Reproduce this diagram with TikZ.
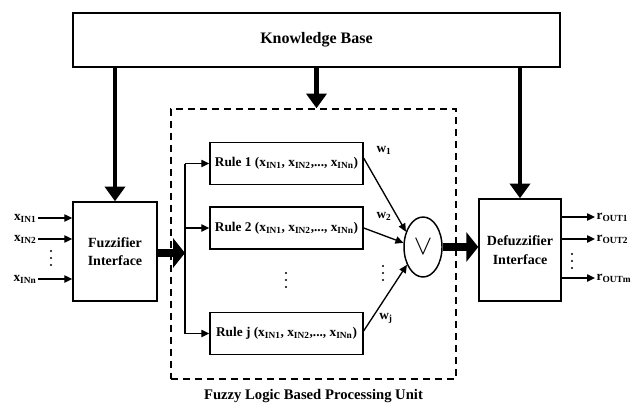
\documentclass[tikz,border=0pt]{standalone}
\usepackage{fontspec}
\setmainfont{Liberation Serif}
\usetikzlibrary{arrows.meta,shapes.geometric,calc}
\begin{document}
\begin{tikzpicture}[x=0.75pt,y=-0.75pt,
  box/.style={draw,line width=1.1pt,inner sep=0pt,align=center},
  thinarrow/.style={line width=1pt,-{Triangle[length=6pt,width=5.5pt]}},
  kbarrow/.style={line width=3.6pt,-{Triangle[length=11pt,width=15pt]}},
  bigarrow/.style={line width=6.5pt,-{Triangle[length=9pt,width=22pt]}},
  lbl/.style={font=\fontsize{10}{12}\selectfont\bfseries,inner sep=1pt},
  rulebox/.style={box,minimum width=114.75pt,minimum height=31.5pt,font=\fontsize{10}{12}\selectfont\bfseries},
  vdot/.style={fill=black}]
\useasboundingbox (0,0) rectangle (641,410);
% Knowledge base
\node[box,minimum width=365.25pt,minimum height=40.5pt,font=\fontsize{12}{14}\selectfont\bfseries] (kb) at (316.5,40) {Knowledge Base};
% Fuzzifier and defuzzifier
\node[box,minimum width=63pt,minimum height=74.25pt,font=\fontsize{10.5}{14}\selectfont\bfseries] (fz) at (115,251.5) {Fuzzifier\\Interface};
\node[box,minimum width=61.5pt,minimum height=76.5pt,font=\fontsize{10.5}{14}\selectfont\bfseries] (df) at (520,250) {Defuzzifier\\Interface};
% Processing unit
\node[draw,line width=1.1pt,dash pattern=on 5.5pt off 3.5pt,minimum width=213.75pt,minimum height=202.5pt,inner sep=0pt] (fl) at (313.5,244) {};
\node[lbl,font=\fontsize{11}{13}\selectfont\bfseries,anchor=north] (fltext) at (313.5,388) {Fuzzy Logic Based Processing Unit};
% Rules
\node[rulebox] (r1) at (286.5,163.5) {Rule 1 (x\textsubscript{IN1}, x\textsubscript{IN2},..., x\textsubscript{INn})};
\node[rulebox] (r2) at (286.5,228) {Rule 2 (x\textsubscript{IN1}, x\textsubscript{IN2},..., x\textsubscript{INn})};
\node[rulebox] (rj) at (286.5,333.5) {Rule j (x\textsubscript{IN1}, x\textsubscript{IN2},..., x\textsubscript{INn})};
% OR node
\node[draw,line width=1.1pt,ellipse,minimum width=28.5pt,minimum height=45pt,inner sep=0pt,font=\fontsize{22}{22}\selectfont] (or) at (423,247) {$\vee$};
% Knowledge base arrows
\draw[kbarrow] (kb.south -| fz.north) -- (fz.north);
\draw[kbarrow] (kb.south -| df.north) -- (df.north);
\draw[kbarrow] (kb.south) -- (kb.south |- fl.north);
% Inputs
\node[lbl,anchor=east] (x1) at (38,218) {x\textsubscript{IN1}};
\node[lbl,anchor=east] (x2) at (38,239) {x\textsubscript{IN2}};
\node[lbl,anchor=east] (xn) at (38,279) {x\textsubscript{INn}};
\draw[thinarrow] (x1.east) -- (x1.east -| fz.west);
\draw[thinarrow] (x2.east) -- (x2.east -| fz.west);
\draw[thinarrow] (xn.east) -- (xn.east -| fz.west);
% Outputs
\coordinate (o1) at (595,217);
\coordinate (o2) at (595,239);
\coordinate (om) at (595,278);
\draw[thinarrow] (o1 -| df.east) -- (o1);
\draw[thinarrow] (o2 -| df.east) -- (o2);
\draw[thinarrow] (om -| df.east) -- (om);
\node[lbl,anchor=west] (ol1) at (o1) {r\textsubscript{OUT1}};
\node[lbl,anchor=west] (ol2) at (o2) {r\textsubscript{OUT2}};
\node[lbl,anchor=west] (olm) at (om) {r\textsubscript{OUTm}};
% Fuzzifier to rules
\coordinate (br) at (185,253);
\draw[bigarrow] (fz.east |- br) -- (br);
\draw[line width=1pt] (br |- r1.west) -- (br |- rj.west);
\draw[thinarrow] (br |- r1.west) -- (r1.west);
\draw[thinarrow] (br |- r2.west) -- (r2.west);
\draw[thinarrow] (br |- rj.west) -- (rj.west);
% Rules to OR
\draw[thinarrow] ([yshift=4pt]r1.east) -- (or.138);
\draw[thinarrow] (r2.east) -- (or.168);
\draw[thinarrow] ([yshift=2pt]rj.east) -- (or.228);
\node[lbl] (w1) at (384,150) {w\textsubscript{1}};
\node[lbl] (w2) at (384,216) {w\textsubscript{2}};
\node[lbl] (wj) at (386,318) {w\textsubscript{j}};
% Vertical dots
\foreach \px/\py in {51/258, 572/261, 286/280, 383/273}
  \foreach \d in {-7,0,7}
    \fill[vdot] (\px,\py+\d) circle (0.9pt);
% OR to defuzzifier
\draw[bigarrow] (or.east) -- (or.east -| df.west);
\end{tikzpicture}
\end{document}
